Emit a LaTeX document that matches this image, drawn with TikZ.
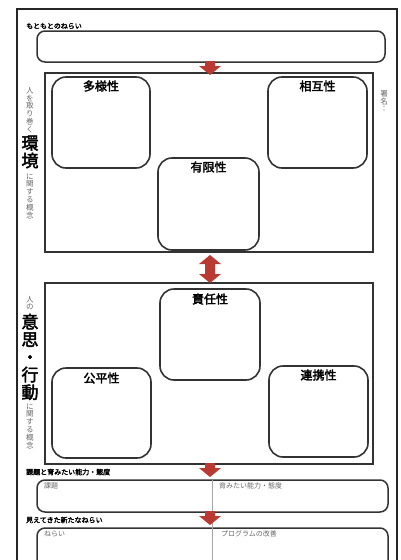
\documentclass[tikz,border=0pt]{standalone}
\usepackage{fontspec}
\newfontfamily\jp[AutoFakeBold=2.5]{Noto Sans CJK JP}
\definecolor{arrowred}{HTML}{B83A32}
\definecolor{linegray}{HTML}{333333}
\definecolor{txtgray}{HTML}{666666}
\tikzset{
  frame/.style={line width=2.2pt, draw=black!85},
  panel/.style={draw=linegray, line width=1.5pt, anchor=north west, inner sep=0pt, outer sep=0pt},
  bigbox/.style={draw=linegray, line width=1.6pt, rounded corners=14pt, anchor=north west, inner sep=0pt, outer sep=0pt},
  widebox/.style={draw=linegray, line width=1.5pt, rounded corners=8pt, anchor=north west, inner sep=0pt, outer sep=0pt},
  boxtitle/.style={font=\jp\bfseries\fontsize{12}{12}\selectfont, inner sep=0pt},
  sect/.style={font=\jp\bfseries\fontsize{7}{7}\selectfont, anchor=west, inner sep=0pt},
  sub/.style={font=\jp\fontsize{7}{7}\selectfont, text=txtgray, anchor=west, inner sep=0pt},
  vsmall/.style={font=\jp\fontsize{7.5}{7.8}\selectfont, text=txtgray, align=center, inner sep=0pt},
  vbig/.style={font=\jp\bfseries\fontsize{17}{17.6}\selectfont, align=center, inner sep=0pt},
  blockarrow/.style={fill=arrowred, draw=none},
  divider/.style={draw=black!35, line width=0.8pt}
}
\begin{document}
\begin{tikzpicture}[x=1pt,y=-1pt]
\useasboundingbox (0,0) rectangle (400,560);
% outer frame
\draw[frame] (17,562) -- (17,9) -- (397,9) -- (397,562);

% top box
\node[sect] (origlbl) at (26,26) {もともとのねらい};
\node[widebox, minimum width=348pt, minimum height=31pt] (orig) at (37,31) {};

% environment panel
\node[panel, minimum width=328pt, minimum height=179pt] (env) at (45,73) {};
\node[bigbox, minimum width=98pt, minimum height=91pt] (tayo) at (52,77) {};
\node[bigbox, minimum width=99pt, minimum height=91pt] (sogo) at (268,77) {};
\node[bigbox, minimum width=101pt, minimum height=92pt] (yugen) at (158,158) {};
\node[boxtitle] (tayot) at ([yshift=-9pt]tayo.north) {多様性};
\node[boxtitle] (sogot) at ([yshift=-9pt]sogo.north) {相互性};
\node[boxtitle] (yugent) at ([yshift=-9pt]yugen.north) {有限性};

% will / action panel
\node[panel, minimum width=328pt, minimum height=181pt] (will) at (45,283) {};
\node[bigbox, minimum width=100pt, minimum height=91pt] (sekinin) at (160,289) {};
\node[bigbox, minimum width=99pt, minimum height=90pt] (kohei) at (52,368) {};
\node[bigbox, minimum width=99pt, minimum height=91pt] (renkei) at (269,366) {};
\node[boxtitle] (sekinint) at ([yshift=-10pt]sekinin.north) {責任性};
\node[boxtitle] (koheit) at ([yshift=-10pt]kohei.north) {公平性};
\node[boxtitle] (renkeit) at ([yshift=-9pt]renkei.north) {連携性};

% vertical side texts
\node[vsmall] (v1a) at (30,110) {人\\を\\取\\り\\巻\\く};
\node[vbig] (v1b) at (30,152) {環\\境};
\node[vsmall] (v1c) at (30,196) {に\\関\\す\\る\\概\\念};
\node[vsmall] (v2a) at (30,303) {人\\の};
\node[vbig] (v2b) at (30,357) {意\\思\\・\\行\\動};
\node[vsmall] (v2c) at (30,426) {に\\関\\す\\る\\概\\念};
\node[vsmall] (sign) at (384,101) {署\\名\\：};

% bottom boxes
\node[sect] (kadailbl) at (26,472) {課題と育みたい能力・態度};
\node[widebox, minimum width=351pt, minimum height=32pt] (kadai) at (37,480) {};
\node[sect] (newlbl) at (26,520) {見えてきた新たなねらい};
\node[widebox, minimum width=351pt, minimum height=46pt] (nerai) at (37,528) {};
\coordinate (divtop) at (212,480);
\coordinate (divbot) at (212,562);
\draw[divider] (divtop) -- (divbot);
\node[sub] (kadait) at (44,486) {課題};
\node[sub] (hagut) at (219,486) {育みたい能力・態度};
\node[sub] (neraint) at (44,534) {ねらい};
\node[sub] (kaizent) at (221,534) {プログラムの改善};

% block arrows
\fill[blockarrow] (205,61) -- (215,61) -- (215,66) -- (221,66) -- (210,75) -- (199,66) -- (205,66) -- cycle;
\fill[blockarrow] (210,255) -- (221,264) -- (215,264) -- (215,274) -- (221,274) -- (210,283) -- (199,274) -- (205,274) -- (205,264) -- (199,264) -- cycle;
\fill[blockarrow] (205,463) -- (215,463) -- (215,468) -- (221,468) -- (210,477) -- (199,468) -- (205,468) -- cycle;
\fill[blockarrow] (205,511) -- (215,511) -- (215,516) -- (221,516) -- (210,525) -- (199,516) -- (205,516) -- cycle;
\end{tikzpicture}
\end{document}
